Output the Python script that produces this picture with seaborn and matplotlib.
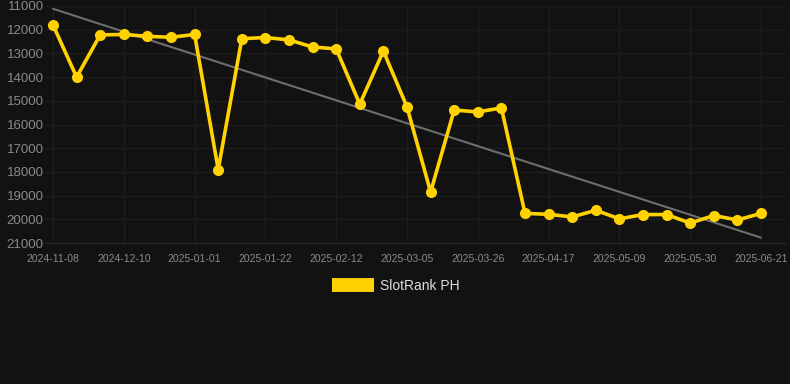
import numpy as np
import pandas as pd
import seaborn as sns
import matplotlib.pyplot as plt

# Data
dates = ["2024-11-08", "2024-11-19", "2024-11-29", "2024-12-10", "2024-12-17",
         "2024-12-24", "2025-01-01", "2025-01-08", "2025-01-15", "2025-01-22",
         "2025-01-29", "2025-02-05", "2025-02-12", "2025-02-19", "2025-02-26",
         "2025-03-05", "2025-03-12", "2025-03-19", "2025-03-26", "2025-04-02",
         "2025-04-10", "2025-04-17", "2025-04-24", "2025-05-01", "2025-05-09",
         "2025-05-16", "2025-05-23", "2025-05-30", "2025-06-06", "2025-06-13",
         "2025-06-21"]
rank = [11800, 14000, 12220, 12200, 12280, 12320, 12200, 17900, 12380, 12330,
        12430, 12730, 12810, 15140, 12900, 15260, 18850, 15390, 15470, 15300,
        19750, 19790, 19900, 19620, 19980, 19800, 19800, 20160, 19840, 20030,
        19750]
series_name = "SlotRank PH"

bg = "#121212"
yellow = "#FFD200"
text_col = "#8a8a8a"
grid_col = "#1d1d1d"

df = pd.DataFrame({"date": dates, "rank": rank})
df["idx"] = np.arange(len(df))

sns.set_style("dark")
plt.rcParams["font.family"] = ["Liberation Sans", "DejaVu Sans"]

fig = plt.figure(figsize=(7.9, 3.84), dpi=100, facecolor=bg)
ax = fig.add_axes([45 / 790, 1 - 243 / 384, 740 / 790, 237 / 384])
ax.set_facecolor(bg)

# trend line (linear fit)
slope, icpt = np.polyfit(df["idx"], df["rank"], 1)
trend = pd.DataFrame({"idx": [0, len(df) - 1]})
trend["rank"] = icpt + slope * trend["idx"]
sns.lineplot(data=trend, x="idx", y="rank", ax=ax, color="#6e6e6e", linewidth=1.5, zorder=2)

sns.lineplot(data=df, x="idx", y="rank", ax=ax, color=yellow, linewidth=2.6,
             marker="o", markersize=8, markeredgewidth=0, zorder=3, label=series_name)

ax.set_ylim(21000, 11000)
ax.set_yticks(range(11000, 21001, 1000))
ax.set_xlim(-8 / 23.6, 30 + 24 / 23.6)
ax.set_xticks(df["idx"][::3])
ax.set_xticklabels(df["date"][::3])
ax.set_xlabel("")
ax.set_ylabel("")

ax.grid(True, color=grid_col, linewidth=1)
for s in ["top", "right", "left"]:
    ax.spines[s].set_visible(False)
ax.spines["bottom"].set_color("#2a2a2a")
ax.tick_params(axis="y", colors=text_col, labelsize=9.5, length=0, pad=1)
ax.tick_params(axis="x", colors=text_col, labelsize=7.5, length=4, width=1,
               color=grid_col, pad=4)
for t in ax.get_yticklabels():
    t.set_color(text_col)
for t in ax.get_xticklabels():
    t.set_color(text_col)

leg = ax.legend(loc="upper center", bbox_to_anchor=((396 - 45) / 740, -0.10), frameon=False,
                handlelength=3.0, handleheight=0.9, handletextpad=0.5, fontsize=10)
for h in leg.legend_handles:
    h.set_marker("")
    h.set_linewidth(10)
    h.set_solid_capstyle("butt")
for t in leg.get_texts():
    t.set_color("#dddddd")

fig.savefig("out.png", dpi=100, facecolor=bg)
